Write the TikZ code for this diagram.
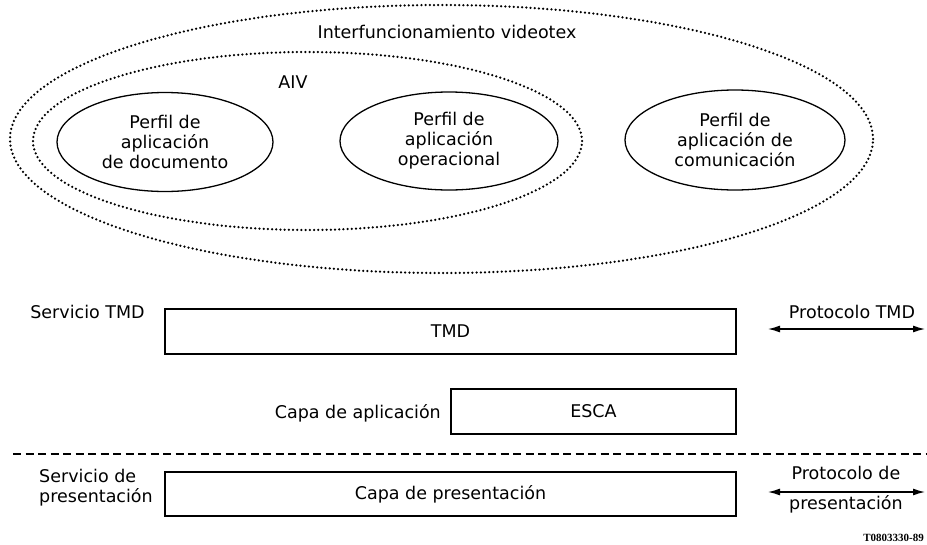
\documentclass[tikz,border=0pt]{standalone}
\usepackage{fontspec}
\setmainfont{DejaVu Sans}
\newfontfamily\codefont{Liberation Serif}
\usetikzlibrary{shapes.geometric,arrows.meta}
\begin{document}
\begin{tikzpicture}[x=1pt,y=-1pt,
  txt/.style={inner sep=0, align=center, font=\fontsize{17.5}{20}\selectfont},
  dotell/.style={ellipse, draw, line width=2.5pt, dash pattern=on 0pt off 4.2pt, line cap=round, inner sep=0},
  prof/.style={ellipse, draw, line width=1.3pt, inner sep=0, align=center, font=\fontsize{17.5}{20}\selectfont},
  layerbox/.style={draw, line width=1.3pt, inner sep=0, font=\fontsize{17.5}{20}\selectfont},
  biarrow/.style={{Latex[length=12pt,width=7pt]}-{Latex[length=12pt,width=7pt]}, line width=1.3pt},
  sepline/.style={line width=1.5pt, dash pattern=on 8pt off 4.5pt}
]
\useasboundingbox (0,0) rectangle (927,544);
\fill[white] (0,0) rectangle (927,544);

% dotted groupings
\node[dotell, minimum width=863pt, minimum height=268pt] (outer) at (441.5,139) {};
\node[dotell, minimum width=549pt, minimum height=178pt] (aiv) at (307.5,141) {};
\node[txt] (outerlbl) at (447,32) {Interfuncionamiento videotex};
\node[txt] (aivlbl) at (293,82) {AIV};

% profiles
\node[prof, minimum width=216pt, minimum height=99pt] (doc) at (165,142) {Perfil de\\aplicación\\de documento};
\node[prof, minimum width=218pt, minimum height=98pt] (oper) at (449,141) {Perfil de\\aplicación\\operacional};
\node[prof, minimum width=220pt, minimum height=100pt] (com) at (735,140) {Perfil de\\aplicación de\\comunicación};

% layers
\node[layerbox, minimum width=571pt, minimum height=45pt] (tmd) at (450.5,331.5) {TMD};
\node[layerbox, minimum width=285pt, minimum height=45pt] (esca) at (593.5,411.5) {ESCA};
\node[layerbox, minimum width=571pt, minimum height=44pt] (pres) at (450.5,494) {Capa de presentación};

\node[txt] (servtmd) at (87.5,312) {Servicio TMD};
\node[txt, anchor=east] (capaapl) at (441,413) {Capa de aplicación};
\node[txt, align=left] (servpres) at (96,487.5) {Servicio de\\presentación};

\node[txt] (prottmd) at (852,312) {Protocolo TMD};
\node[txt] (protpres) at (846,490) {Protocolo de\\[10pt]presentación};

% separator
\coordinate (sepl) at (13,454);
\coordinate (sepr) at (927,454);
\draw[sepline] (sepl) -- (sepr);

% protocol arrows
\coordinate (a1l) at (768,329);
\coordinate (a1r) at (925,329);
\draw[biarrow] (a1l) -- (a1r);
\coordinate (a2l) at (768,492);
\coordinate (a2r) at (925,492);
\draw[biarrow] (a2l) -- (a2r);

\node[inner sep=0, anchor=east, font=\codefont\bfseries\fontsize{11}{12}\selectfont] (ref) at (924,538) {T0803330-89};
\end{tikzpicture}
\end{document}
